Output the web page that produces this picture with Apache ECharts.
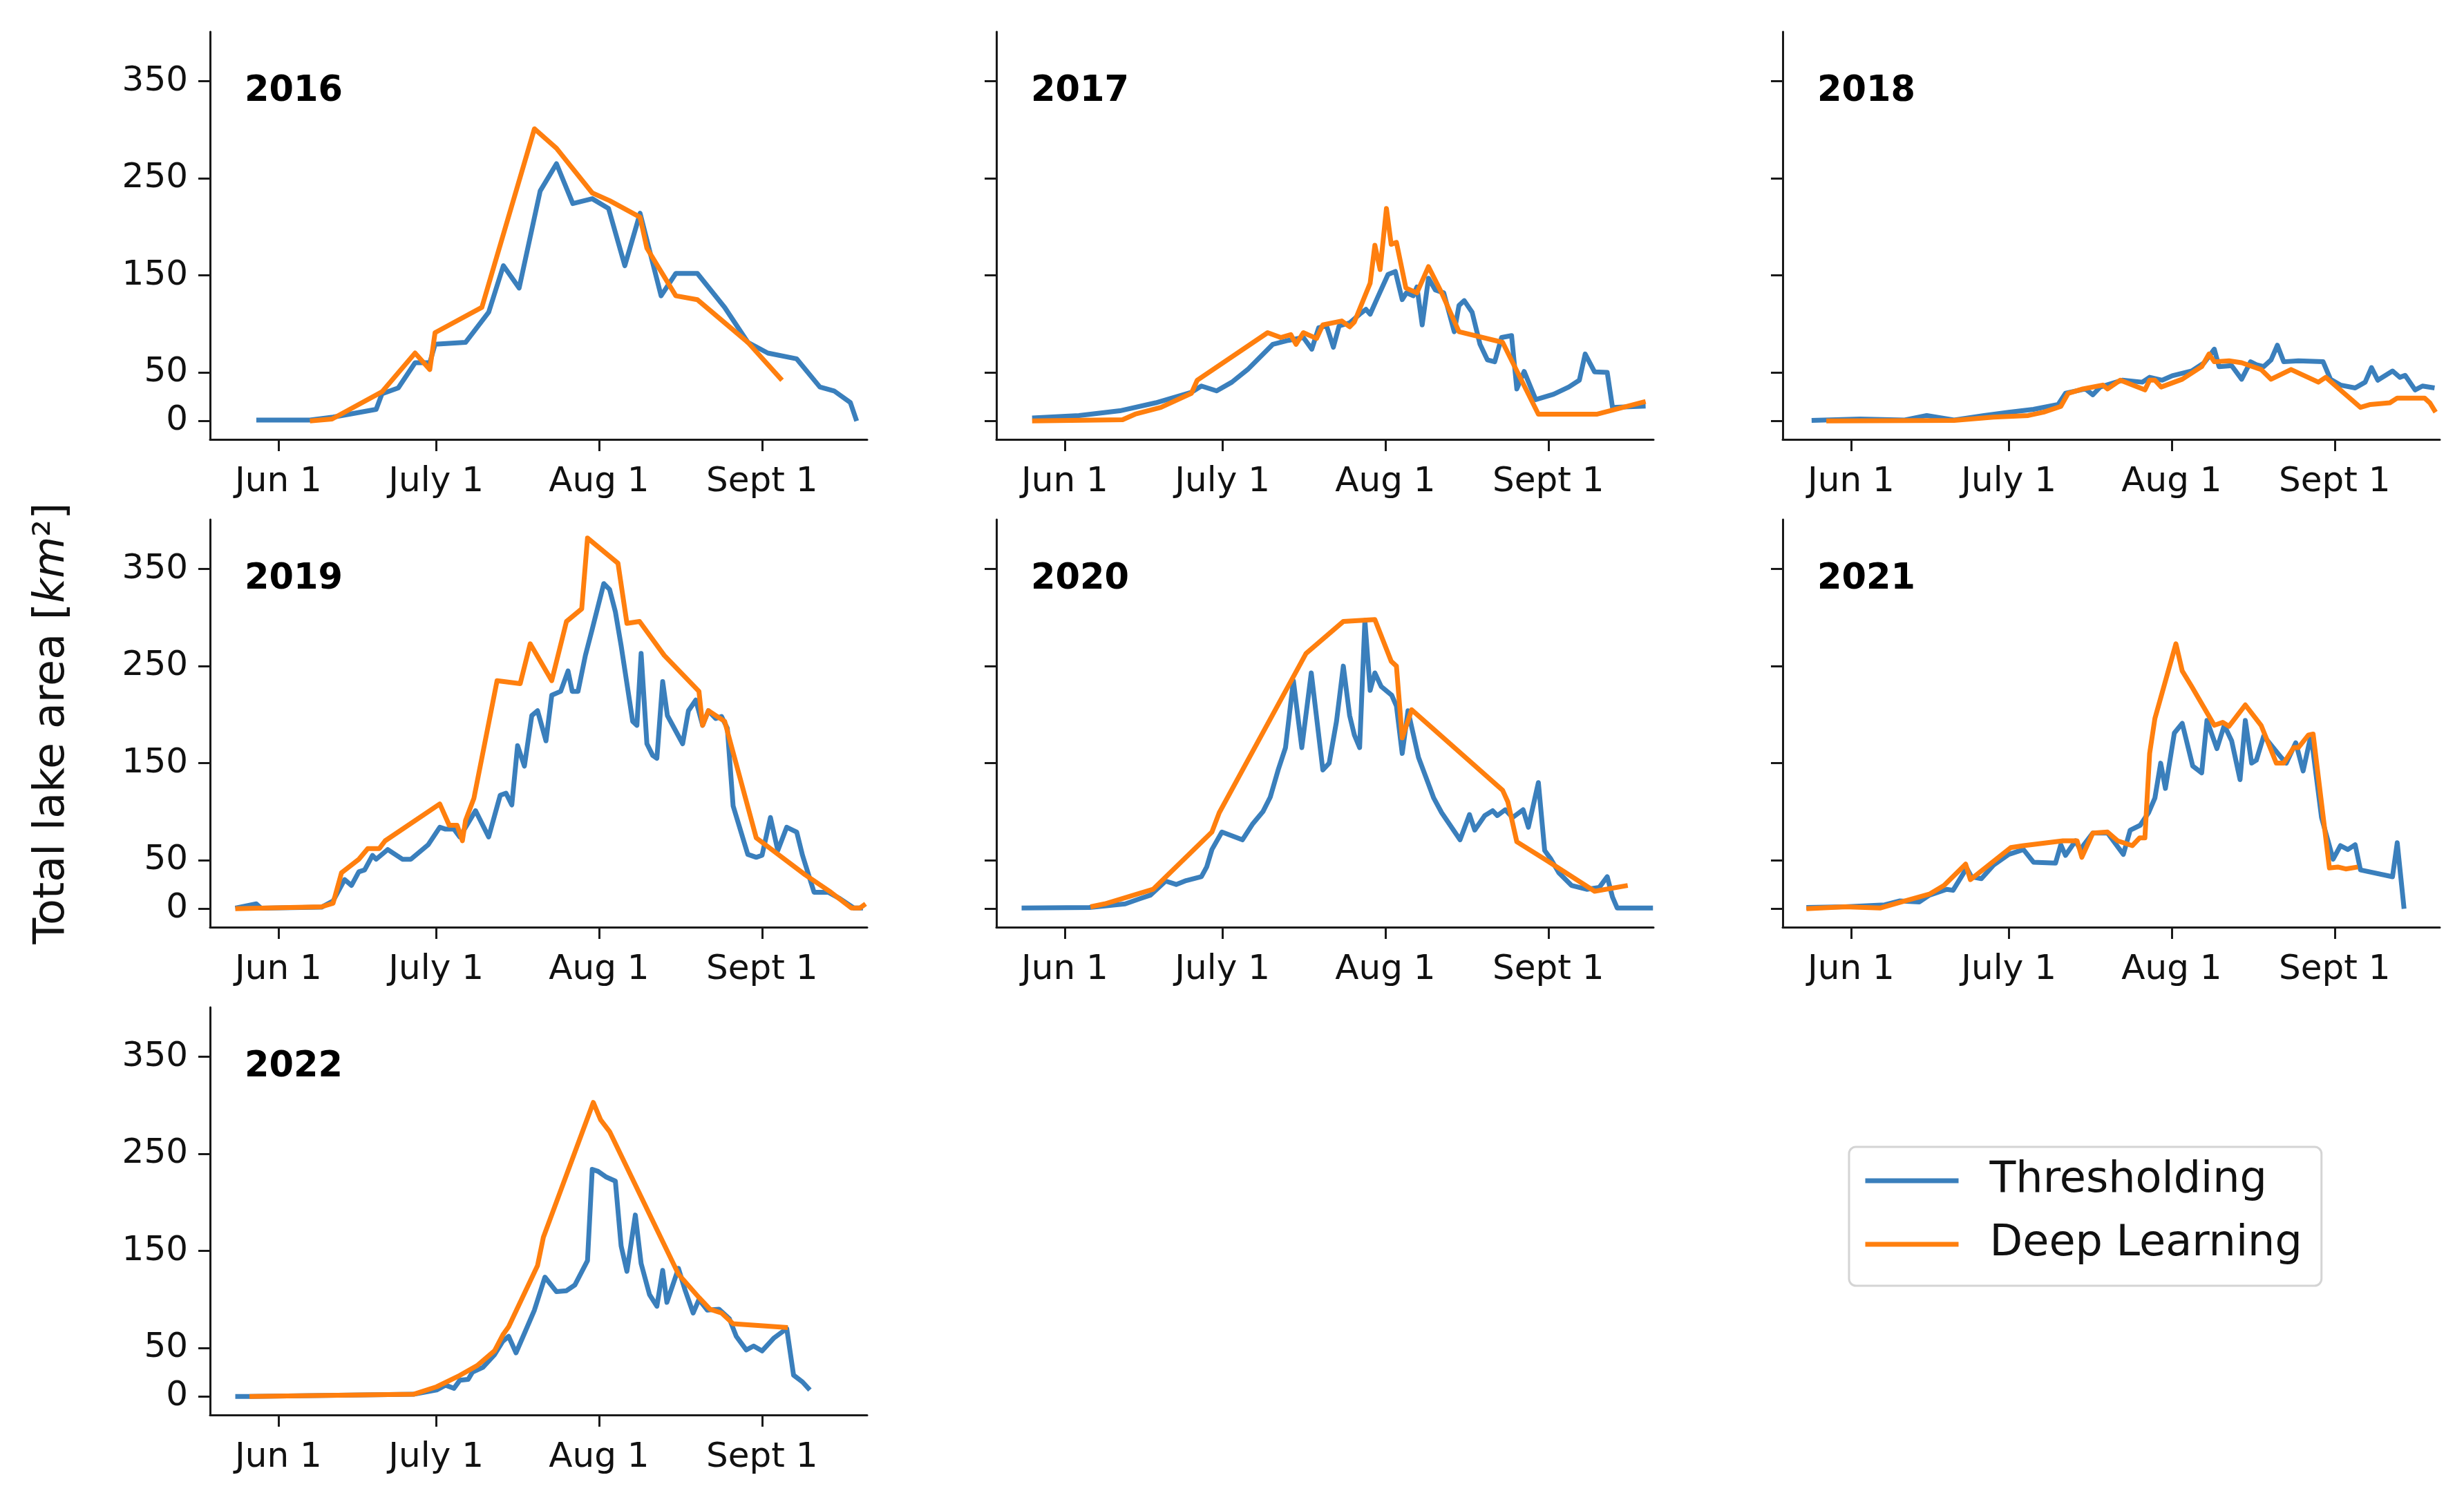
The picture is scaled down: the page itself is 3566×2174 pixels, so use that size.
<!DOCTYPE html>
<html><head><meta charset="utf-8">
<script src="https://cdn.jsdelivr.net/npm/echarts@6/dist/echarts.min.js"></script>
<style>html,body{margin:0;padding:0;background:#fff}#c{width:3566px;height:2174px}</style>
</head><body><div id="c"></div>
<script>
// x values are days relative to June 1 (Jun 1 = 0, July 1 = 30, Aug 1 = 61, Sept 1 = 92)
const years = ['2016','2017','2018','2019','2020','2021','2022'];
const tickDays = [0, 30, 61, 92];
const tickLabels = ['Jun 1', 'July 1', 'Aug 1', 'Sept 1'];
const yTickValues = [0, 50, 150, 250, 350];
const seriesNames = ['Thresholding', 'Deep Learning'];

const thr2016 = [[-4.2,1],[6,1],[10.4,4],[18.6,12],[19.7,28],[22.8,34],[26,60],[28.8,60],[29.8,79],[35.6,81],[40,112],[42.8,160],[45.8,137],[49.8,237],[52.9,265],[56,224],[59.7,229],[62.8,219],[65.9,160],[68.8,214],[72.8,129],[75.6,152],[79.7,152],[84.9,117],[89.3,81],[93.1,70],[98.6,64],[103,35],[105.7,31],[108.8,19],[110,0]];
const dl2016 = [[6,0],[10.2,2],[19.7,30],[26,70],[28.8,53],[29.8,91],[38.7,117],[48.7,301],[52.9,281],[59.7,235],[63,227],[68.8,210],[70.1,178],[75.6,129],[79.7,125],[89.3,81],[95.8,42]];

const thr2017 = [[-6.2,3],[2.7,5.6],[10.5,10.5],[17.3,18.7],[24.1,29.5],[26,36],[28.9,31],[31.8,40],[34.8,53],[39.6,79],[42.5,83],[45.4,86],[47,74],[48.3,96],[49.8,98],[51.1,76],[52.2,98],[54.2,101],[56.1,110],[57.3,115],[58.1,110],[59.5,127],[61.5,151],[62.9,154],[64.2,125],[65,132],[66.3,129],[67,138],[68,99],[69.2,147],[70.5,135],[72.1,132],[74.1,92],[75,119],[76,124],[77.5,112],[79,79],[80.4,63],[81.8,61],[83.1,86],[85,88],[86,33],[87.4,51],[89.6,22],[93,27.5],[95.9,35],[97.9,42],[99,69],[100.8,50.5],[103.2,50],[104.2,14],[110.5,15.4]];
const dl2017 = [[-6.2,0],[3.7,0.7],[11,1.3],[13.4,7],[18.3,14],[24.1,28.5],[25.2,42],[38.6,91],[41.1,86],[43,89],[44,79],[45.4,91],[47.9,85],[49.1,99],[52.7,103],[54.2,97],[55.1,102],[58.1,142],[59,181],[60,156],[61.2,219],[62.1,182],[63.1,184],[64.9,137],[67,132],[69.2,159],[71.7,132],[75,92],[83.3,81],[90.1,7],[101.3,7],[110.5,20]];

const thr2018 = [[-7.5,0.6],[1.7,2],[10.2,1],[14.4,5.6],[19.6,1],[25.3,5.6],[30,9],[34.7,12],[39.4,17],[40.8,28.5],[44.6,33],[46,27],[47.4,35],[51.6,42],[55.4,40],[56.8,45],[59.2,42],[61.1,46.6],[64.8,51.5],[67.2,60],[69.1,74],[70,56],[72.4,57],[74.3,43],[76,61],[77.1,58],[78.5,56],[79.9,63],[81.1,78],[82.3,61],[85.1,62],[89.8,61],[91.2,43],[93.1,37],[95.9,34],[97.8,40],[99,55],[100.2,42],[103,51.5],[104.4,45],[105.4,47],[107.3,32],[108.7,36],[111,34]];
const dl2018 = [[-4.7,0],[19.6,0.6],[27.1,4],[33.7,5.6],[36.6,9],[39.9,15],[41.3,28.5],[44.1,33],[47.9,37],[48.8,33],[51.2,42],[55.9,32],[56.8,42],[57.8,42],[59,35],[63,43],[66.7,56],[68.1,69],[69.1,61],[71.9,62],[74.3,60],[78,53],[79.9,43],[83.7,53],[88.9,40],[90.3,45],[96.9,14],[98.8,17],[102.5,18.7],[103.9,23.6],[109.1,23.6],[110.1,18.7],[111.2,9]];

const thr2019 = [[-8.2,0.7],[-4.2,5],[-3.3,0.5],[8.2,1.6],[10.4,8],[12.6,30],[13.9,24],[15.3,38],[16.4,40],[17.9,55],[18.6,51],[20.8,61],[23.6,51],[25.2,51],[28.5,66],[30.7,84],[31.8,82],[33.4,82],[34.5,74],[37.5,101],[40,74],[42.2,117],[43.3,119],[44.4,107],[45.5,168],[46.8,147],[48.2,199],[49.3,204],[50.9,173],[52,220],[53.7,224],[55.1,245],[55.9,224],[57,224],[58.4,261],[59.7,288],[61.9,335],[63,329],[64.1,306],[65.2,271],[66.3,232],[67.4,193],[68.2,189],[69,263],[70.1,170],[71.2,158],[72,155],[73.1,234],[74,199],[76.9,170],[78,204],[79.4,215],[80.7,189],[81.8,204],[83.2,196],[84.3,198],[85.4,186],[86.5,106],[89.3,56],[90.9,53],[92,55],[93.6,94],[95,60],[96.7,84],[98.6,79],[99.7,55],[101.9,17],[104.6,17],[106.8,10.5],[109.5,0.7],[111.2,0.7]];
const dl2019 = [[-8.2,0],[8.2,2],[10.4,5.6],[12,37],[15.3,51],[17,62],[19.2,62],[20.3,70],[30.7,108],[32.5,86],[34,86],[35,70],[35.6,91],[37.2,114],[41.6,235],[46,232],[47.9,273],[52,235],[54.8,296],[57.7,309],[58.8,382],[64.6,356],[66.3,294],[68.7,296],[73.4,261],[80,224],[80.7,189],[81.8,204],[84.9,193],[90.9,73],[100.2,35],[105.1,17],[109,0.7],[110.6,0.7],[111.7,5]];

const thr2020 = [[-8.2,0.7],[4.7,1.3],[11.5,5],[14.4,10.5],[16.3,14],[19.2,28.5],[21.2,25],[23.1,29],[26,33],[27,43],[28,61],[29.9,79],[33.8,71],[35.7,87],[37.7,100],[39.1,115],[40.6,143],[42,166],[43.5,235],[45.1,166],[46.9,243],[49.1,143],[50.3,150],[51.7,193],[53,250],[54.2,199],[55.1,179],[56.1,166],[57.1,297],[58.1,225],[59,243],[60.2,229],[62.2,220],[63.1,209],[64.2,160],[65.3,204],[67.3,156],[70.2,114],[71.7,99],[75.2,71],[77,97],[78,81],[79.9,96],[81.4,101],[82.3,96],[83.8,102],[85.2,94],[87.2,102],[88.2,84],[90.1,130],[91.3,60],[92.5,51],[94,37],[96.4,24],[99.3,20],[101.7,22],[103.2,33],[104.2,12],[105.1,0.7],[111.9,0.7]];
const dl2020 = [[4.9,2],[7.6,5],[16.8,20],[28,79],[29.4,99],[45.9,263],[53,296],[59,298],[62.1,255],[63.1,250],[64.2,176],[66,205],[83.3,122],[84.3,110],[86,69],[91.6,50],[100.8,18],[107.1,24]];

const thr2021 = [[-8.5,1.3],[-1.1,2],[6.4,4],[9.2,8],[13,7],[14.9,14],[18.2,20],[19.4,19],[22,42],[22.9,33],[24.8,31],[27.1,45],[30,56],[32.8,61],[34.7,48],[38.9,47],[39.9,66],[40.8,55],[42.7,70],[43.6,61],[46,78],[48.8,78],[51.8,56],[53.1,81],[55,86],[56.6,99],[57.8,114],[58.9,150],[59.8,124],[61.5,181],[63,191],[65,147],[66.7,140],[67.7,194],[69.6,165],[71,189],[72.4,173],[74,133],[75,194],[76.2,150],[77.1,153],[78.5,178],[81.8,156],[82.8,150],[84.6,171],[86,142],[87.5,179],[89.5,94],[91.7,51],[93.1,65],[94.5,61],[95.9,66],[96.9,40],[103,33],[103.9,68],[105.2,0]];
const dl2021 = [[-8.5,0],[-1.1,2],[5.5,0.7],[10.2,8],[14.9,15],[17.7,24],[21.8,46],[22.7,30],[30.4,63],[32.8,65],[40.3,70],[43,70],[43.9,53],[46,78],[48.8,79],[50.7,70],[53.5,65],[54.9,73],[55.9,73],[56.8,160],[57.8,196],[61.8,273],[63,245],[64.8,229],[69.1,189],[70.7,192],[71.9,188],[75,210],[78,189],[80.9,150],[82.3,150],[84.2,166],[85.1,166],[87,179],[87.9,180],[91,42],[92.6,43],[94.1,41],[96.4,43]];

const thr2022 = [[-8.2,0],[-5.5,0],[25.7,2.3],[30.1,6.7],[31.8,11.7],[33.4,8.4],[34.5,16.7],[36.1,17.7],[36.9,25],[38.9,30],[41.1,43],[42.7,57],[43.8,62],[45.2,45],[46.8,65],[48.7,89],[50.7,123],[52.9,108],[54.8,109],[56.4,115],[58.8,140],[59.7,234],[60.8,232],[62.4,226],[64.1,222],[65.2,155],[66.3,129],[67.9,187],[69,137],[70.6,105],[72,93],[73.1,130],[73.9,97],[76.1,132],[77.4,109],[78.9,86],[80,100],[81.6,89],[83.8,90],[85.8,80],[87.1,62],[89,48],[90.4,52],[92,47],[94.2,60],[96.7,70],[98,22],[99.7,15],[101.1,6.7]];
const dl2022 = [[-5.5,0],[25.7,2.3],[30.1,10],[34.5,21.7],[37.8,31.8],[41.1,47],[42.7,63.5],[43.8,72],[49.3,135],[50.4,164],[59.9,303],[61.3,285],[63,273],[76.1,126],[80,102],[82.1,90],[84.3,86],[86.5,75],[96.9,71]];

const thrData = [thr2016, thr2017, thr2018, thr2019, thr2020, thr2021, thr2022];
const dlData = [dl2016, dl2017, dl2018, dl2019, dl2020, dl2021, dl2022];

const BLUE = '#3a7fbc';
const ORANGE = '#ff7f0e';
const FONT = '"DejaVu Sans", sans-serif';
const colLeft = [304, 1442, 2580];
const rowTop = [46, 752, 1458];
const GW = 951, GH = 590;

const grids = [], xAxes = [], yAxes = [], series = [], graphics = [];
years.forEach((yr, i) => {
  const r = Math.floor(i / 3), c = i % 3;
  grids.push({ left: colLeft[c], top: rowTop[r], width: GW, height: GH, containLabel: false });
  xAxes.push({
    type: 'value', gridIndex: i, min: -13, max: 112,
    splitLine: { show: false },
    axisLine: { onZero: false, lineStyle: { color: '#1a1a1a', width: 3 } },
    axisTick: { customValues: tickDays, length: 17, lineStyle: { color: '#1a1a1a', width: 3 } },
    axisLabel: { customValues: tickDays, margin: 37, fontSize: 50, fontFamily: FONT, color: '#111',
      formatter: v => tickLabels[tickDays.indexOf(v)] || '' }
  });
  yAxes.push({
    type: 'value', gridIndex: i, min: -19, max: 401,
    splitLine: { show: false },
    axisLine: { show: true, onZero: false, lineStyle: { color: '#1a1a1a', width: 3 } },
    axisTick: { show: true, customValues: yTickValues, length: 17, lineStyle: { color: '#1a1a1a', width: 3 } },
    axisLabel: { show: c === 0, customValues: yTickValues, margin: 32, fontSize: 50, fontFamily: FONT, color: '#111' }
  });
  series.push({
    type: 'line', name: seriesNames[0], xAxisIndex: i, yAxisIndex: i, data: thrData[i],
    symbol: 'none', z: 2, lineStyle: { width: 7, color: BLUE, join: 'round' }, itemStyle: { color: BLUE }
  });
  series.push({
    type: 'line', name: seriesNames[1], xAxisIndex: i, yAxisIndex: i, data: dlData[i],
    symbol: 'none', z: 3, lineStyle: { width: 7, color: ORANGE, join: 'round' }, itemStyle: { color: ORANGE }
  });
  graphics.push({
    type: 'text', left: colLeft[c] + 50, top: rowTop[r] + 61,
    style: { text: yr, fontSize: 51, fontWeight: 'bold', fontFamily: FONT, fill: '#000' }
  });
});

graphics.push({
  type: 'text', x: 76, y: 1047, rotation: Math.PI / 2,
  style: {
    text: '{n|Total lake area [}{i|km}{n|²]}',
    align: 'center', verticalAlign: 'middle', fill: '#111',
    rich: {
      n: { fontSize: 62, fontFamily: FONT, fill: '#111' },
      i: { fontSize: 62, fontFamily: FONT, fontStyle: 'italic', fill: '#111' }
    }
  }
});

const chart = echarts.init(document.getElementById('c'), null, { renderer: 'canvas' });
chart.setOption({
  animation: false,
  backgroundColor: '#fff',
  grid: grids, xAxis: xAxes, yAxis: yAxes, series: series,
  graphic: graphics,
  legend: {
    data: seriesNames, orient: 'vertical', left: 2676, top: 1660,
    padding: [18, 28, 29, 20], itemGap: 30, itemWidth: 135, itemHeight: 4,
    backgroundColor: '#fff', borderColor: '#d4d4d4', borderWidth: 3, borderRadius: 10,
    lineStyle: { width: 7 },
    textStyle: { fontSize: 62, lineHeight: 62, fontFamily: FONT, color: '#111', padding: [0, 0, 0, 40] }
  }
});
</script></body></html>
